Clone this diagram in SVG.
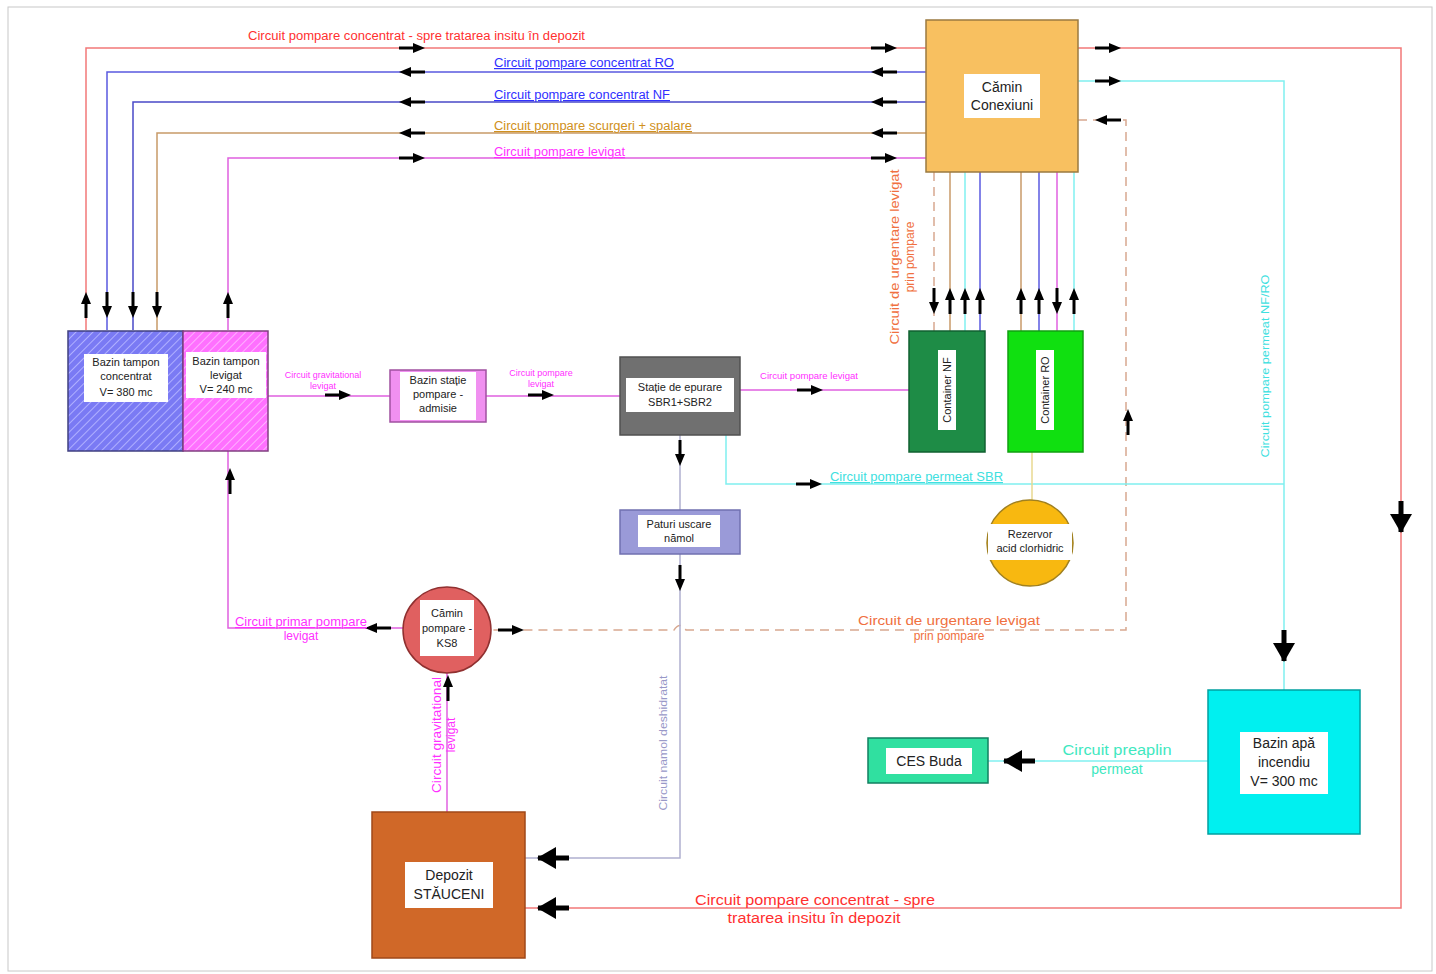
<svg xmlns="http://www.w3.org/2000/svg" xmlns:xlink="http://www.w3.org/1999/xlink" width="1436" height="974" viewBox="0 0 1436 974">
<style>
text{font-family:"Liberation Sans",Arial,sans-serif}
.ln{fill:none;stroke-width:1.5}
.red{stroke:#f27878}
.bro{stroke:#5a5ae0}
.bnf{stroke:#4a4ac8}
.tan{stroke:#c89a68}
.mag{stroke:#e060e0}
.cya{stroke:#80f0f0}
.gry{stroke:#b0b0d0}
.dsh{stroke:#d8a890;stroke-dasharray:9 6}
.lbl{fill:#fff}
.nt{font-size:11px;fill:#222;text-anchor:middle}
.bt{font-size:14px;fill:#222;text-anchor:middle}
.tr{fill:#ff3030;font-size:12px}
.tb{fill:#3030ff;font-size:12px;text-decoration:underline}
.tt{fill:#d09020;font-size:12px;text-decoration:underline}
.tm{fill:#ff30ff;font-size:12px;text-decoration:underline}
.tc{fill:#40e0e0;font-size:12px}
.to{fill:#f07040;font-size:12px}
</style>
<defs>
<g id="a"><path d="M-13,0 H3" stroke="#000" stroke-width="3"/><path d="M13,0 L1,-5 L1,5 Z" fill="#000"/></g>
<g id="A"><path d="M-25,0 H6" stroke="#000" stroke-width="5"/><path d="M-26,0 L-7,-11 L-7,11 Z" fill="#000"/></g>
<pattern id="hb" width="6" height="6" patternUnits="userSpaceOnUse" patternTransform="rotate(45)"><rect width="6" height="6" fill="#7a7af4"/><path d="M0,0 V6" stroke="#b0b0ff" stroke-width="2"/></pattern>
<pattern id="hm" width="6" height="6" patternUnits="userSpaceOnUse" patternTransform="rotate(45)"><rect width="6" height="6" fill="#ff70ff"/><path d="M0,0 V6" stroke="#ffb0ff" stroke-width="2"/></pattern>
</defs>
<rect x="0" y="0" width="1436" height="974" fill="#fff"/>
<rect x="8" y="7" width="1424" height="964" fill="none" stroke="#c8c8c8" stroke-width="1"/>

<g id="connectors">
<path class="ln red" d="M86,330 V48 H926"/>
<path class="ln red" d="M1078,48 H1401 V908 H525"/>
<path class="ln bro" d="M107,330 V72 H926"/>
<path class="ln bnf" d="M133,330 V102 H926"/>
<path class="ln tan" d="M157,330 V133 H926"/>
<path class="ln mag" d="M228,330 V158 H926"/>
<path class="ln cya" d="M1078,81 H1284 V690"/>
<path class="ln dsh" d="M1078,120 H1126 V630 H686 Q680,621 674,630 H491"/>
<path class="ln cya" d="M726,435 V484 H1284"/>
<path class="ln dsh" d="M934,172 V331"/>
<path class="ln tan" d="M950,172 V331"/>
<path class="ln cya" d="M965,172 V331"/>
<path class="ln bro" d="M980,172 V331"/>
<path class="ln tan" d="M1021,172 V331"/>
<path class="ln bro" d="M1039,172 V331"/>
<path class="ln mag" d="M1057,172 V331"/>
<path class="ln cya" d="M1074,172 V331"/>
<path class="ln" stroke="#e8d890" d="M1032,452 V500"/>
<path class="ln mag" d="M268,396 H390 M486,396 H620 M740,390 H909"/>
<path class="ln gry" d="M680,435 V510 M680,554 V858 H525"/>
<path class="ln mag" d="M403,628 H228 V451"/>
<path class="ln mag" d="M447,673 V812"/>
<path class="ln cya" d="M1208,761 H988"/>

<use xlink:href="#a" transform="translate(412,48)"/>
<use xlink:href="#a" transform="translate(412,72) rotate(180)"/>
<use xlink:href="#a" transform="translate(412,102) rotate(180)"/>
<use xlink:href="#a" transform="translate(412,133) rotate(180)"/>
<use xlink:href="#a" transform="translate(412,158)"/>
<use xlink:href="#a" transform="translate(884,48)"/>
<use xlink:href="#a" transform="translate(884,72) rotate(180)"/>
<use xlink:href="#a" transform="translate(884,102) rotate(180)"/>
<use xlink:href="#a" transform="translate(884,133) rotate(180)"/>
<use xlink:href="#a" transform="translate(884,158)"/>
<use xlink:href="#a" transform="translate(1108,48)"/>
<use xlink:href="#a" transform="translate(1108,81)"/>
<use xlink:href="#a" transform="translate(1108,120) rotate(180)"/>
<use xlink:href="#a" transform="translate(86,305) rotate(-90)"/>
<use xlink:href="#a" transform="translate(107,305) rotate(90)"/>
<use xlink:href="#a" transform="translate(133,305) rotate(90)"/>
<use xlink:href="#a" transform="translate(157,305) rotate(90)"/>
<use xlink:href="#a" transform="translate(228,305) rotate(-90)"/>
<use xlink:href="#a" transform="translate(934,301) rotate(90)"/>
<use xlink:href="#a" transform="translate(950,301) rotate(-90)"/>
<use xlink:href="#a" transform="translate(965,301) rotate(-90)"/>
<use xlink:href="#a" transform="translate(980,301) rotate(-90)"/>
<use xlink:href="#a" transform="translate(1021,301) rotate(-90)"/>
<use xlink:href="#a" transform="translate(1039,301) rotate(-90)"/>
<use xlink:href="#a" transform="translate(1057,301) rotate(90)"/>
<use xlink:href="#a" transform="translate(1074,301) rotate(-90)"/>
<use xlink:href="#a" transform="translate(338,395)"/>
<use xlink:href="#a" transform="translate(541,395)"/>
<use xlink:href="#a" transform="translate(810,390)"/>
<use xlink:href="#a" transform="translate(680,453) rotate(90)"/>
<use xlink:href="#a" transform="translate(680,578) rotate(90)"/>
<use xlink:href="#a" transform="translate(809,484)"/>
<use xlink:href="#a" transform="translate(1128,422) rotate(-90)"/>
<use xlink:href="#a" transform="translate(378,628) rotate(180)"/>
<use xlink:href="#a" transform="translate(511,630)"/>
<use xlink:href="#a" transform="translate(448,688) rotate(-90)"/>
<use xlink:href="#a" transform="translate(230,481) rotate(-90)"/>
<use xlink:href="#A" transform="translate(1401,507) rotate(-90)"/>
<use xlink:href="#A" transform="translate(1284,636) rotate(-90)"/>
<use xlink:href="#A" transform="translate(1029,761)"/>
<use xlink:href="#A" transform="translate(563,858)"/>
<use xlink:href="#A" transform="translate(563,908)"/>

<text class="tr" x="248" y="40" textLength="337" lengthAdjust="spacingAndGlyphs">Circuit pompare concentrat - spre tratarea insitu în depozit</text>
<text class="tb" x="494" y="67" textLength="180" lengthAdjust="spacingAndGlyphs">Circuit pompare concentrat RO</text>
<text class="tb" x="494" y="99" textLength="176" lengthAdjust="spacingAndGlyphs">Circuit pompare concentrat NF</text>
<text class="tt" x="494" y="130" textLength="198" lengthAdjust="spacingAndGlyphs">Circuit pompare scurgeri + spalare</text>
<text class="tm" x="494" y="156" textLength="131" lengthAdjust="spacingAndGlyphs">Circuit pompare levigat</text>
<text fill="#ff30ff" font-size="9" text-anchor="middle"><tspan x="323" y="378">Circuit gravitational</tspan><tspan x="323" y="389">levigat</tspan></text>
<text fill="#ff30ff" font-size="9" text-anchor="middle"><tspan x="541" y="376">Circuit pompare</tspan><tspan x="541" y="387">levigat</tspan></text>
<text fill="#ff30ff" font-size="9" x="760" y="379" textLength="98" lengthAdjust="spacingAndGlyphs">Circuit pompare levigat</text>
<text class="tc" x="830" y="481" style="text-decoration:underline" textLength="173" lengthAdjust="spacingAndGlyphs">Circuit pompare permeat SBR</text>
<text fill="#40e0e0" font-size="11" text-anchor="middle" transform="translate(1269,366) rotate(-90)" textLength="183" lengthAdjust="spacingAndGlyphs">Circuit pompare permeat NF/RO</text>
<text class="to" text-anchor="middle" transform="translate(899,257) rotate(-90)"><tspan x="0" y="0" textLength="175" lengthAdjust="spacingAndGlyphs">Circuit de urgentare levigat</tspan><tspan x="0" y="15">prin pompare</tspan></text>
<text class="to" text-anchor="middle" font-size="13"><tspan x="949" y="625" textLength="182" lengthAdjust="spacingAndGlyphs">Circuit de urgentare levigat</tspan><tspan x="949" y="640">prin pompare</tspan></text>
<text fill="#ff30ff" font-size="12" text-anchor="middle"><tspan x="301" y="626" text-decoration="underline" textLength="132" lengthAdjust="spacingAndGlyphs">Circuit primar pompare</tspan><tspan x="301" y="640">levigat</tspan></text>
<text fill="#ff30ff" font-size="12" text-anchor="middle" transform="translate(441,735) rotate(-90)"><tspan x="0" y="0" textLength="116" lengthAdjust="spacingAndGlyphs">Circuit gravitational</tspan><tspan x="0" y="14">levigat</tspan></text>
<text fill="#9898c8" font-size="11" text-anchor="middle" transform="translate(667,743) rotate(-90)" textLength="135" lengthAdjust="spacingAndGlyphs">Circuit namol deshidratat</text>
<text fill="#40e8c0" font-size="14" text-anchor="middle"><tspan x="1117" y="755" textLength="109" lengthAdjust="spacingAndGlyphs">Circuit preaplin</tspan><tspan x="1117" y="774">permeat</tspan></text>
<text fill="#ff3030" font-size="14" text-anchor="middle"><tspan x="815" y="905" textLength="240" lengthAdjust="spacingAndGlyphs">Circuit pompare concentrat - spre</tspan><tspan x="814" y="923" textLength="173" lengthAdjust="spacingAndGlyphs">tratarea insitu în depozit</tspan></text>
</g>

<g id="camin-conexiuni">
<rect x="926" y="20" width="152" height="152" fill="#f8c060" stroke="#9a7a40" stroke-width="1.5"/>
<rect x="964" y="74" width="76" height="44" class="lbl"/>
<text class="bt"><tspan x="1002" y="92">Cămin</tspan><tspan x="1002" y="110">Conexiuni</tspan></text>
</g>

<g id="bazin-tampon-concentrat">
<rect x="68" y="331" width="115" height="120" fill="url(#hb)" stroke="#404080" stroke-width="1.5"/>
<rect x="84" y="354" width="84" height="48" class="lbl"/>
<text class="nt"><tspan x="126" y="366">Bazin tampon</tspan><tspan x="126" y="380">concentrat</tspan><tspan x="126" y="396">V= 380 mc</tspan></text>
</g>

<g id="bazin-tampon-levigat">
<rect x="183" y="331" width="85" height="120" fill="url(#hm)" stroke="#804080" stroke-width="1.5"/>
<rect x="186" y="352" width="80" height="46" class="lbl"/>
<text class="nt"><tspan x="226" y="365">Bazin tampon</tspan><tspan x="226" y="379">levigat</tspan><tspan x="226" y="393">V= 240 mc</tspan></text>
</g>

<g id="bazin-statie-pompare">
<rect x="390" y="370" width="96" height="52" fill="#f090f0" stroke="#a050a0" stroke-width="1.5"/>
<rect x="400" y="372" width="76" height="48" class="lbl"/>
<text class="nt"><tspan x="438" y="384">Bazin stație</tspan><tspan x="438" y="398">pompare -</tspan><tspan x="438" y="412">admisie</tspan></text>
</g>

<g id="statie-epurare">
<rect x="620" y="357" width="120" height="78" fill="#707070" stroke="#505050" stroke-width="1.5"/>
<rect x="626" y="378" width="108" height="34" class="lbl"/>
<text class="nt"><tspan x="680" y="391">Stație de epurare</tspan><tspan x="680" y="406">SBR1+SBR2</tspan></text>
</g>

<g id="paturi-uscare">
<rect x="620" y="510" width="120" height="44" fill="#9a9ad8" stroke="#7070b0" stroke-width="1.5"/>
<rect x="638" y="515" width="82" height="32" class="lbl"/>
<text class="nt"><tspan x="679" y="528">Paturi uscare</tspan><tspan x="679" y="542">nămol</tspan></text>
</g>

<g id="container-nf">
<rect x="909" y="331" width="76" height="121" fill="#1e8c46" stroke="#106030" stroke-width="1.5"/>
<rect x="938" y="350" width="18" height="80" class="lbl"/>
<text class="nt" font-size="10" transform="translate(951,390) rotate(-90)">Container NF</text>
</g>

<g id="container-ro">
<rect x="1008" y="331" width="75" height="121" fill="#10e010" stroke="#10a010" stroke-width="1.5"/>
<rect x="1036" y="350" width="18" height="80" class="lbl"/>
<text class="nt" font-size="10" transform="translate(1049,390) rotate(-90)">Container RO</text>
</g>

<g id="rezervor">
<circle cx="1030" cy="543" r="43" fill="#f8b810" stroke="#a08020" stroke-width="1.5"/>
<rect x="988" y="524" width="84" height="36" class="lbl"/>
<text class="nt"><tspan x="1030" y="538">Rezervor</tspan><tspan x="1030" y="552">acid clorhidric</tspan></text>
</g>

<g id="camin-pompare-ks8">
<ellipse cx="447" cy="630" rx="44" ry="43" fill="#e06060" stroke="#903030" stroke-width="1.5"/>
<rect x="420" y="600" width="54" height="56" class="lbl"/>
<text class="nt"><tspan x="447" y="617">Cămin</tspan><tspan x="447" y="632">pompare -</tspan><tspan x="447" y="647">KS8</tspan></text>
</g>

<g id="depozit">
<rect x="372" y="812" width="153" height="146" fill="#d06828" stroke="#a04818" stroke-width="1.5"/>
<rect x="405" y="862" width="88" height="46" class="lbl"/>
<text class="bt" fill="#223"><tspan x="449" y="880">Depozit</tspan><tspan x="449" y="899">STĂUCENI</tspan></text>
</g>

<g id="bazin-apa-incendiu">
<rect x="1208" y="690" width="152" height="144" fill="#00f0f0" stroke="#00a0a0" stroke-width="1.5"/>
<rect x="1240" y="732" width="88" height="62" class="lbl"/>
<text class="bt"><tspan x="1284" y="748">Bazin apă</tspan><tspan x="1284" y="767">incendiu</tspan><tspan x="1284" y="786">V= 300 mc</tspan></text>
</g>

<g id="ces-buda">
<rect x="868" y="738" width="120" height="45" fill="#30e0a0" stroke="#108060" stroke-width="1.5"/>
<rect x="886" y="748" width="86" height="26" class="lbl"/>
<text class="bt" x="929" y="766">CES Buda</text>
</g>
</svg>
